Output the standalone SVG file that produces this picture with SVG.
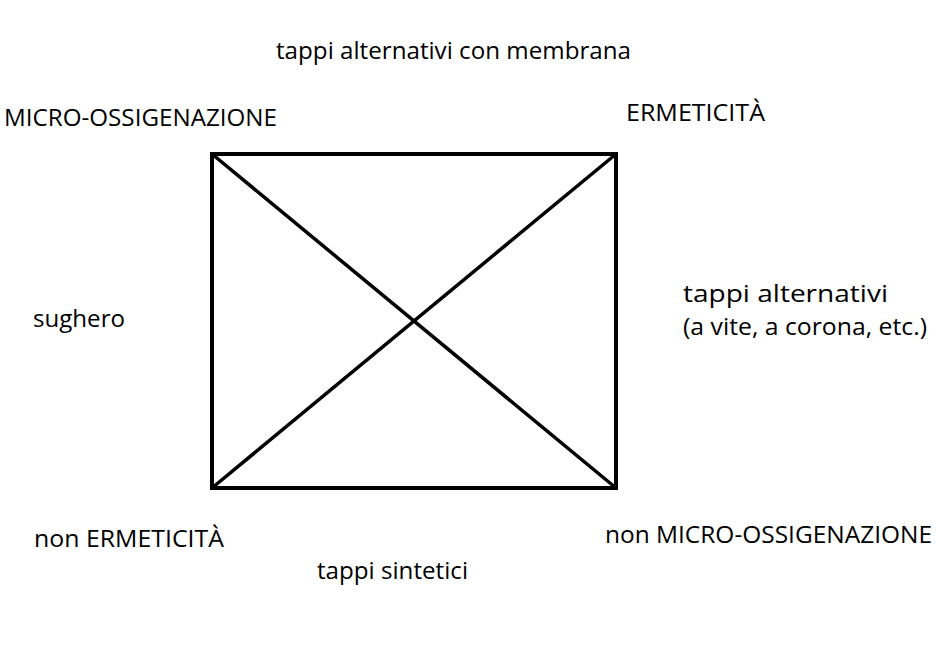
<svg xmlns="http://www.w3.org/2000/svg" width="939" height="648" viewBox="0 0 939 648">
<style>
text{font-family:"Open Sans","Noto Sans","DejaVu Sans",sans-serif;font-size:23px;fill:#000}
.box{fill:none;stroke:#000;stroke-width:4}
.diag{stroke:#000;stroke-width:3.5;fill:none}
</style>
<rect width="939" height="648" fill="#fff"/>
<g id="square">
<rect class="box" x="212" y="154" width="404" height="334"/>
</g>
<g id="connectors">
<line class="diag" x1="212" y1="154" x2="616" y2="488"/>
<line class="diag" x1="212" y1="488" x2="616" y2="154"/>
</g>
<g id="top-label"><text x="276" y="59" textLength="355" lengthAdjust="spacingAndGlyphs">tappi alternativi con membrana</text></g>
<g id="micro"><text x="4" y="126" textLength="273" lengthAdjust="spacingAndGlyphs">MICRO-OSSIGENAZIONE</text></g>
<g id="ermeticita"><text x="626" y="121" textLength="139" lengthAdjust="spacingAndGlyphs">ERMETICITÀ</text></g>
<g id="sughero"><text x="33" y="327" textLength="92" lengthAdjust="spacingAndGlyphs">sughero</text></g>
<g id="right-label"><text x="683" y="302" textLength="205" lengthAdjust="spacingAndGlyphs">tappi alternativi</text><text x="683" y="335" textLength="244" lengthAdjust="spacingAndGlyphs">(a vite, a corona, etc.)</text></g>
<g id="non-ermeticita"><text x="34" y="547" textLength="190" lengthAdjust="spacingAndGlyphs">non ERMETICITÀ</text></g>
<g id="non-micro"><text x="605" y="543" textLength="327" lengthAdjust="spacingAndGlyphs">non MICRO-OSSIGENAZIONE</text></g>
<g id="sintetici"><text x="317" y="579" textLength="151" lengthAdjust="spacingAndGlyphs">tappi sintetici</text></g>
</svg>
